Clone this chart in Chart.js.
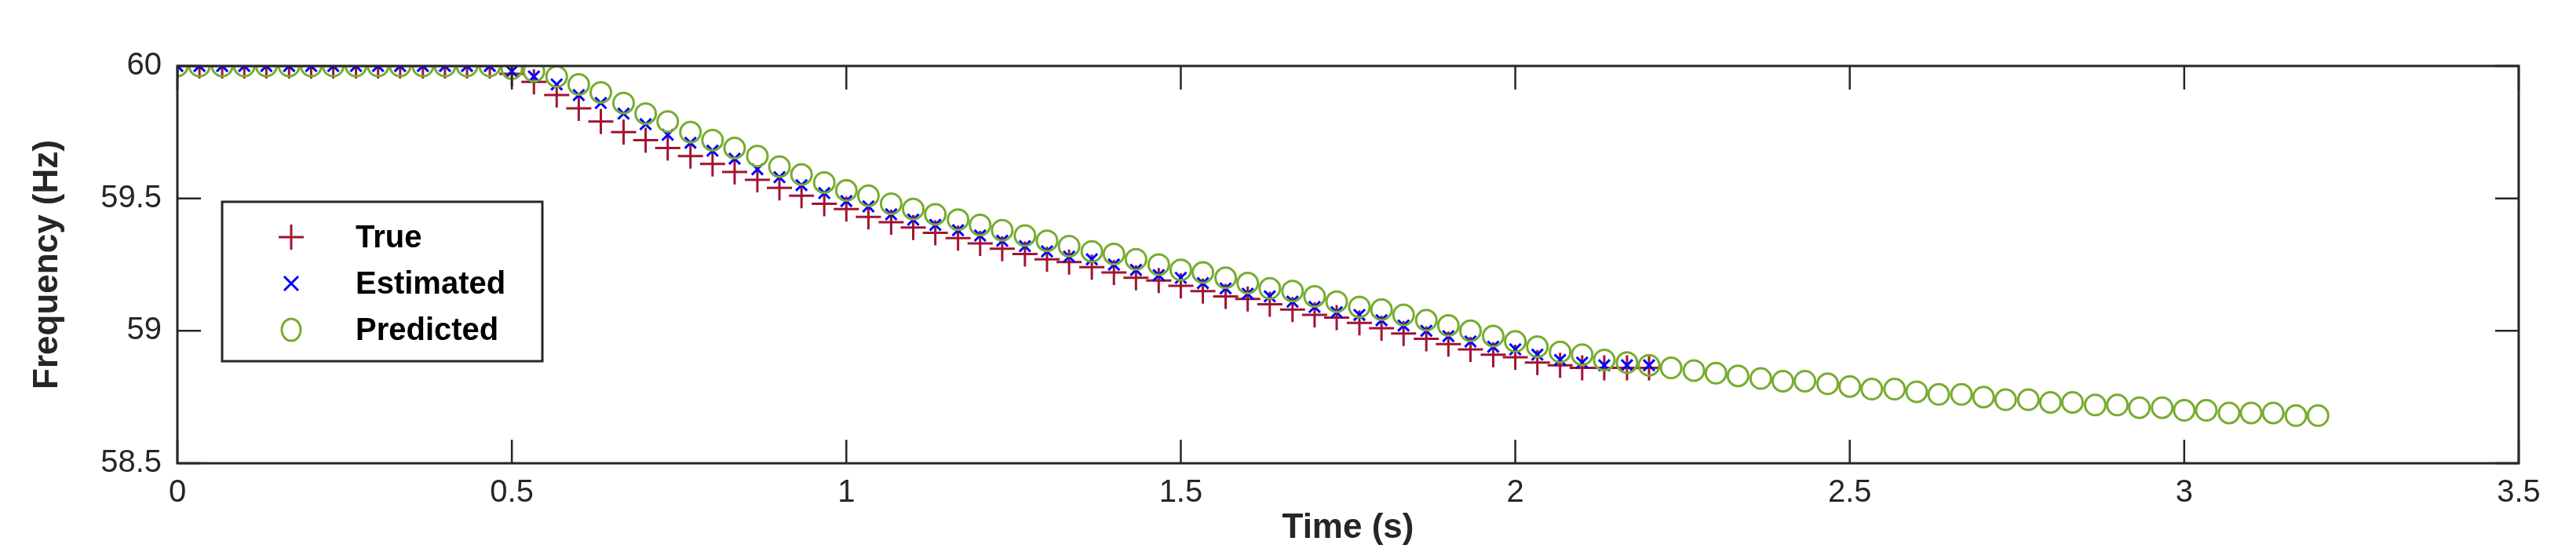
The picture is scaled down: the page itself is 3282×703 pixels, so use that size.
<!DOCTYPE html>
<html><head><meta charset="utf-8">
<script src="https://cdn.jsdelivr.net/npm/chart.js@4"></script>
<style>html,body{margin:0;padding:0;background:#fff}#w{width:3282px;height:703px}</style>
</head><body><div id="w"><canvas id="c"></canvas></div>
<script>
const timeS = [0,0.033,0.067,0.1,0.133,0.167,0.2,0.233,0.267,0.3,0.333,0.367,0.4,0.433,0.467,0.5,0.533,0.567,0.6,0.633,0.667,0.7,0.733,0.767,0.8,0.833,0.867,0.9,0.933,0.967,1,1.033,1.067,1.1,1.133,1.167,1.2,1.233,1.267,1.3,1.333,1.367,1.4,1.433,1.467,1.5,1.533,1.567,1.6,1.633,1.667,1.7,1.733,1.767,1.8,1.833,1.867,1.9,1.933,1.967,2,2.033,2.067,2.1,2.133,2.167,2.2,2.233,2.267,2.3,2.333,2.367,2.4,2.433,2.467,2.5,2.533,2.567,2.6,2.633,2.667,2.7,2.733,2.767,2.8,2.833,2.867,2.9,2.933,2.967,3,3.033,3.067,3.1,3.133,3.167,3.2];
const trueF = [60,60,60,60,60,60,60,60,60,60,60,60,60,60,60,
59.97,59.94,59.89,59.84,59.79,59.75,59.72,59.69,59.66,59.63,59.60,59.57,59.54,59.51,59.48,59.46,59.43,59.41,59.39,59.37,59.35,59.33,59.31,59.29,59.27,59.26,59.24,59.22,59.20,59.19,59.17,59.15,59.13,59.12,59.10,59.08,59.06,59.05,59.03,59.01,58.99,58.97,58.95,58.93,58.91,58.90,58.88,58.87,58.86,58.86,58.86,58.86];
const estimatedF = [60,60,60,60,60,60,60,60,60,60,60,60,60,60,60,
59.98,59.96,59.93,59.89,59.86,59.82,59.78,59.74,59.71,59.68,59.65,59.61,59.58,59.55,59.52,59.49,59.47,59.44,59.42,59.40,59.38,59.36,59.34,59.32,59.30,59.28,59.27,59.25,59.23,59.21,59.20,59.18,59.16,59.14,59.13,59.11,59.09,59.07,59.06,59.04,59.02,59.00,58.98,58.96,58.94,58.93,58.91,58.89,58.88,58.87,58.87,58.87];
const predictedF = [60,60,60,60,60,60,60,60,60,60,60,60,60,60,60,
59.99,59.98,59.96,59.93,59.90,59.86,59.82,59.79,59.75,59.72,59.69,59.66,59.62,59.59,59.56,59.53,59.51,59.48,59.46,59.44,59.42,59.40,59.38,59.36,59.34,59.32,59.30,59.29,59.27,59.25,59.23,59.22,59.20,59.18,59.16,59.15,59.13,59.11,59.09,59.08,59.06,59.04,59.02,59.00,58.98,58.96,58.94,58.92,58.91,58.89,58.88,58.87,
58.86,58.85,58.84,58.83,58.82,58.81,58.81,58.80,58.79,58.78,58.78,58.77,58.76,58.76,58.75,58.74,58.74,58.73,58.73,58.72,58.72,58.71,58.71,58.70,58.70,58.69,58.69,58.69,58.68,58.68];
const seriesNames = ['True','Estimated','Predicted'];
const xTicks = [0,0.5,1,1.5,2,2.5,3,3.5];
const yTicks = [58.5,59,59.5,60];

const pts = (ys) => ys.map((y,i)=>({x:timeS[i],y}));
const RED='#a2142f', BLUE='#0000ff', GREEN='#77ac30';
const FONT='"Liberation Sans Narrow","Liberation Sans",Arial,sans-serif';

const frame = {
  id:'frame',
  afterDatasetsDraw(ch){
    const {ctx, chartArea:a, scales:{x,y}} = ch;
    ctx.save();
    ctx.strokeStyle='#262626'; ctx.lineWidth=3;
    ctx.strokeRect(a.left,a.top,a.right-a.left,a.bottom-a.top);
    ctx.lineWidth=2.5;
    xTicks.forEach(v=>{const p=x.getPixelForValue(v);
      ctx.beginPath();ctx.moveTo(p,a.bottom);ctx.lineTo(p,a.bottom-30);ctx.moveTo(p,a.top);ctx.lineTo(p,a.top+30);ctx.stroke();});
    yTicks.forEach(v=>{const p=y.getPixelForValue(v);
      ctx.beginPath();ctx.moveTo(a.left,p);ctx.lineTo(a.left+30,p);ctx.moveTo(a.right,p);ctx.lineTo(a.right-30,p);ctx.stroke();});
    const L=283,T=257,W=408,H=203;
    ctx.fillStyle='#fff'; ctx.fillRect(L,T,W,H);
    ctx.strokeStyle='#262626'; ctx.lineWidth=3; ctx.strokeRect(L,T,W,H);
    ctx.font='bold 40px '+FONT; ctx.fillStyle='#000'; ctx.textBaseline='middle';
    const rows=[T+45,T+104,T+163], mx=L+88, tx=L+170;
    ctx.lineWidth=3;
    ctx.strokeStyle=RED; ctx.beginPath();
    ctx.moveTo(mx-16,rows[0]);ctx.lineTo(mx+16,rows[0]);ctx.moveTo(mx,rows[0]-16);ctx.lineTo(mx,rows[0]+16);ctx.stroke();
    ctx.strokeStyle=BLUE; ctx.beginPath();
    ctx.moveTo(mx-9,rows[1]-9);ctx.lineTo(mx+9,rows[1]+9);ctx.moveTo(mx+9,rows[1]-9);ctx.lineTo(mx-9,rows[1]+9);ctx.stroke();
    ctx.strokeStyle=GREEN; ctx.beginPath(); ctx.ellipse(mx,rows[2],12,14,0,0,Math.PI*2); ctx.stroke();
    seriesNames.forEach((n,i)=>ctx.fillText(n,tx,rows[i]+2));
    ctx.restore();
  }
};

new Chart(document.getElementById('c'),{
  type:'scatter',
  data:{datasets:[
    {label:seriesNames[2],data:pts(predictedF),pointStyle:'circle',radius:13,borderColor:GREEN,backgroundColor:'rgba(0,0,0,0)',borderWidth:3},
    {label:seriesNames[1],data:pts(estimatedF),pointStyle:'crossRot',radius:10,borderColor:BLUE,backgroundColor:BLUE,borderWidth:3},
    {label:seriesNames[0],data:pts(trueF),pointStyle:'cross',radius:16,borderColor:RED,backgroundColor:RED,borderWidth:3}
  ]},
  options:{
    responsive:true,maintainAspectRatio:false,animation:false,
    layout:{padding:{top:84,right:73,left:30,bottom:0}},
    plugins:{legend:{display:false},tooltip:{enabled:false}},
    scales:{
      x:{type:'linear',min:0,max:3.5,
        afterBuildTicks:s=>{s.ticks=xTicks.map(v=>({value:v}));},
        afterFit:s=>{s.height=113;},
        grid:{display:false},border:{display:false},
        ticks:{color:'#262626',font:{size:40,family:FONT},padding:6,maxRotation:0,callback:v=>String(v)},
        title:{display:true,text:'Time (s)',color:'#262626',font:{size:44,weight:'bold',family:FONT},padding:{top:0}}},
      y:{min:58.5,max:60,
        afterBuildTicks:s=>{s.ticks=yTicks.map(v=>({value:v}));},
        afterFit:s=>{s.width=196;},
        grid:{display:false},border:{display:false},
        ticks:{color:'#262626',font:{size:40,family:FONT},padding:12,callback:v=>String(v)},
        title:{display:true,text:'Frequency (Hz)',color:'#262626',font:{size:44,weight:'bold',family:FONT},padding:{bottom:0}}}
    }
  },
  plugins:[frame]
});
</script></body></html>
